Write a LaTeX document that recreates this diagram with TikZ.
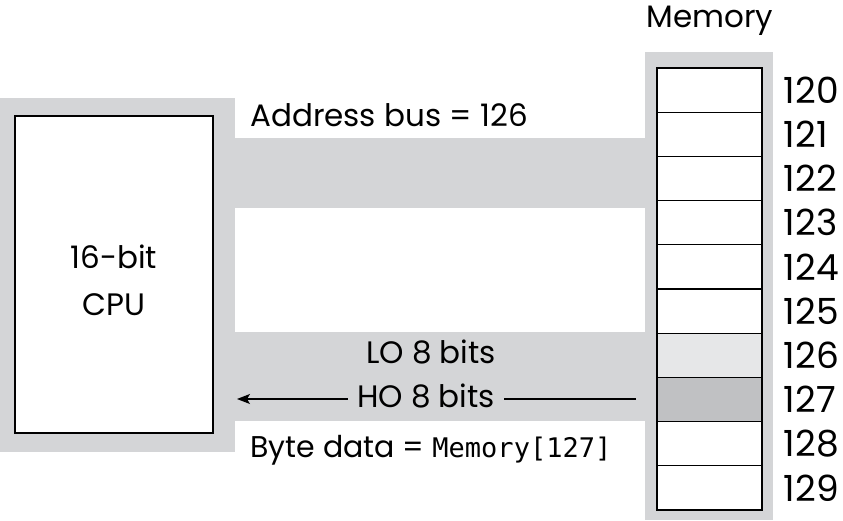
\documentclass[tikz,border=0pt]{standalone}
\usepackage{fontspec}
\setmainfont{Poppins}
\setmonofont{DejaVu Sans Mono}
\usetikzlibrary{arrows.meta,positioning}
\definecolor{busgray}{RGB}{212,213,215}
\definecolor{lobyte}{RGB}{230,231,232}
\definecolor{hobyte}{RGB}{192,193,195}

\begin{document}
\begin{tikzpicture}[
    x=1pt, y=-1pt,
    cpubox/.style={rectangle, draw, line width=1.2pt, fill=white, minimum width=198pt,
                   minimum height=317pt},
    cell/.style={rectangle, draw, line width=1.2pt, minimum width=105pt, minimum height=44.2pt,
                 inner sep=0pt},
    addrnum/.style={inner sep=0pt, font=\fontsize{36}{40}\selectfont},
    lbl/.style={inner sep=0pt, font=\fontsize{31}{36}\selectfont},
    arrow/.style={-{Stealth[length=13pt,width=10pt,inset=3pt]}, line width=1.2pt}
  ]
  \useasboundingbox (0,0) rectangle (843,521);

  % Gray backgrounds
  \fill[busgray] (0,98) rectangle (235,452);
  \fill[busgray] (235,138) rectangle (645,208);
  \fill[busgray] (235,332) rectangle (645,421);
  \fill[busgray] (645,52) rectangle (773,520);

  % CPU
  \node[cpubox] (cpu) at (114,274.5) {};
  \node[lbl, align=center, font=\fontsize{31}{47}\selectfont, anchor=base] (cpulbl) at (114,315) {16-bit\\CPU};

  % Memory cells
  \foreach \i/\col in {0/white,1/white,2/white,3/white,4/white,5/white,6/lobyte,7/hobyte,8/white,9/white} {
    \node[cell, fill=\col] (m\i) at (709.5,90.1+44.2*\i) {};
    \pgfmathtruncatemacro{\addr}{120+\i}
    \node[addrnum, anchor=west, right=21pt of m\i] (a\i) {\addr};
  }
  \node[lbl, anchor=base] (memlbl) at (710,28) {Memory};

  % Buses
  \node[lbl, anchor=base west] (addrbus) at (250,127) {Address bus = 126};
  \node[lbl, anchor=base] (lo) at (431,363) {LO 8 bits};
  \node[lbl, anchor=base, inner xsep=9pt] (ho) at (426,407) {HO 8 bits};
  \node[lbl, anchor=base west] (bytedata) at (250,457)
    {\fontsize{30}{36}\selectfont Byte data = {\ttfamily\fontsize{27}{32}\selectfont Memory[127]}};

  \coordinate (hostart) at (636,399);
  \coordinate (hoend) at (237,399);
  \draw[line width=1.2pt] (hostart) -- (ho.east |- hostart);
  \draw[arrow] (ho.west |- hoend) -- (hoend);
\end{tikzpicture}
\end{document}
